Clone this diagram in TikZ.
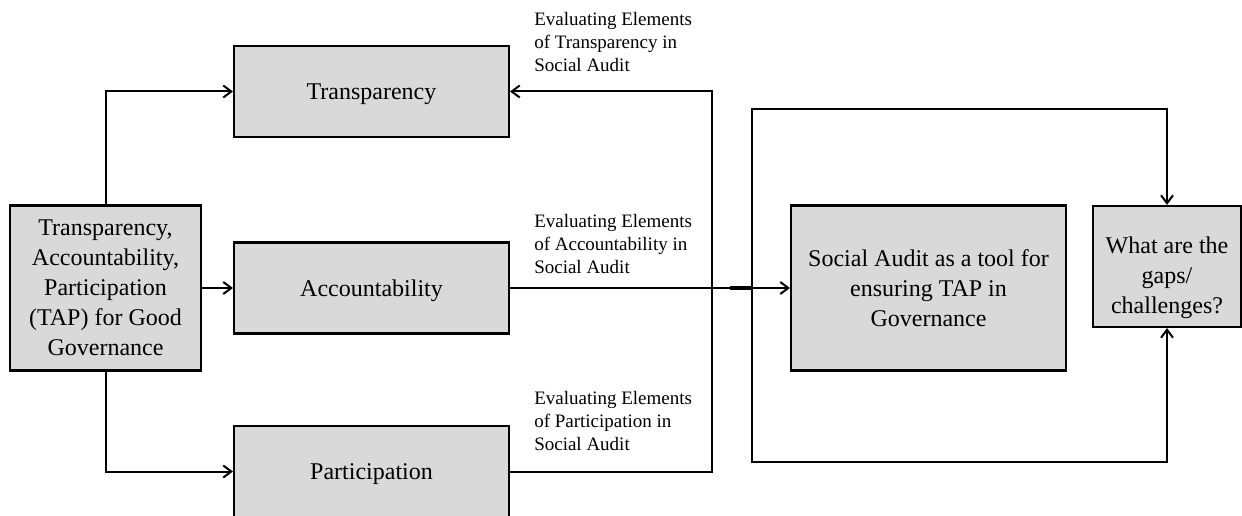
\documentclass[tikz,border=0pt]{standalone}
\usepackage{fontspec}
\setmainfont{Liberation Serif}
\usetikzlibrary{arrows.meta}

\begin{document}
\begin{tikzpicture}[
    x=0.75pt, y=-0.75pt,
    >={Straight Barb[length=6pt,width=9pt]},
    box/.style={rectangle,draw=black,fill=boxgray,line width=1.6pt,align=center,
        font=\fontsize{18}{22.5}\selectfont},
    pillar/.style={box,minimum width=206.25pt,minimum height=68.25pt,text depth=0pt},
    link/.style={line width=1.5pt},
    note/.style={anchor=north west,inner sep=0pt,align=left,
        font=\fontsize{14.25}{17.25}\selectfont},
    ]
    \definecolor{boxgray}{HTML}{D9D9D9}
    \useasboundingbox (0,0) rectangle (1242,516);
    \begin{scope}
    \clip (0,0) rectangle (1242,516);
    % the framework on the left
    \node[box,minimum width=143.25pt,minimum height=123.75pt] (tap) at (105.5,288)
        {Transparency,\\Accountability,\\Participation\\(TAP) for Good\\Governance};
    \node[pillar] (transp) at (371.5,91.5) {Transparency};
    \node[pillar] (account) at (371.5,288) {Accountability};
    \node[pillar] (partic) at (371.5,471.5) {Participation};
    % social audit and its gaps
    \node[box,minimum width=206.25pt,minimum height=123.75pt] (audit) at (928.5,288)
        {Social Audit as a tool for\\ensuring TAP in\\Governance};
    \node[box,minimum width=111pt,minimum height=90.75pt,text height=73.8pt] (gaps)
        at (1167,266.5) {What are the\\gaps/\\challenges?};
    \coordinate (join) at (712,288);
    \coordinate (loop) at (752,288);

    \draw[link,->] (tap.north) |- (transp.west);
    \draw[link,->] (tap.east) -- (account.west);
    \draw[link,->] (tap.south) |- (partic.west);

    \draw[link,->] (partic.east) -| (join) |- (transp.east);
    \draw[link,->] (account.east) -- (audit.west);
    \draw[line width=2.6pt] (730,288) -- (loop);

    \draw[link,->] (loop) |- (752,109) -| (gaps.north);
    \draw[link,->] (loop) |- (752,462) -| (gaps.south);

    \node[note] (tnote) at (534,12) {Evaluating Elements\\of Transparency in\\Social Audit};
    \node[note] (anote) at (534,214) {Evaluating Elements\\of Accountability in\\Social Audit};
    \node[note] (pnote) at (534,391) {Evaluating Elements\\of Participation in\\Social Audit};
    \end{scope}
\end{tikzpicture}
\end{document}
